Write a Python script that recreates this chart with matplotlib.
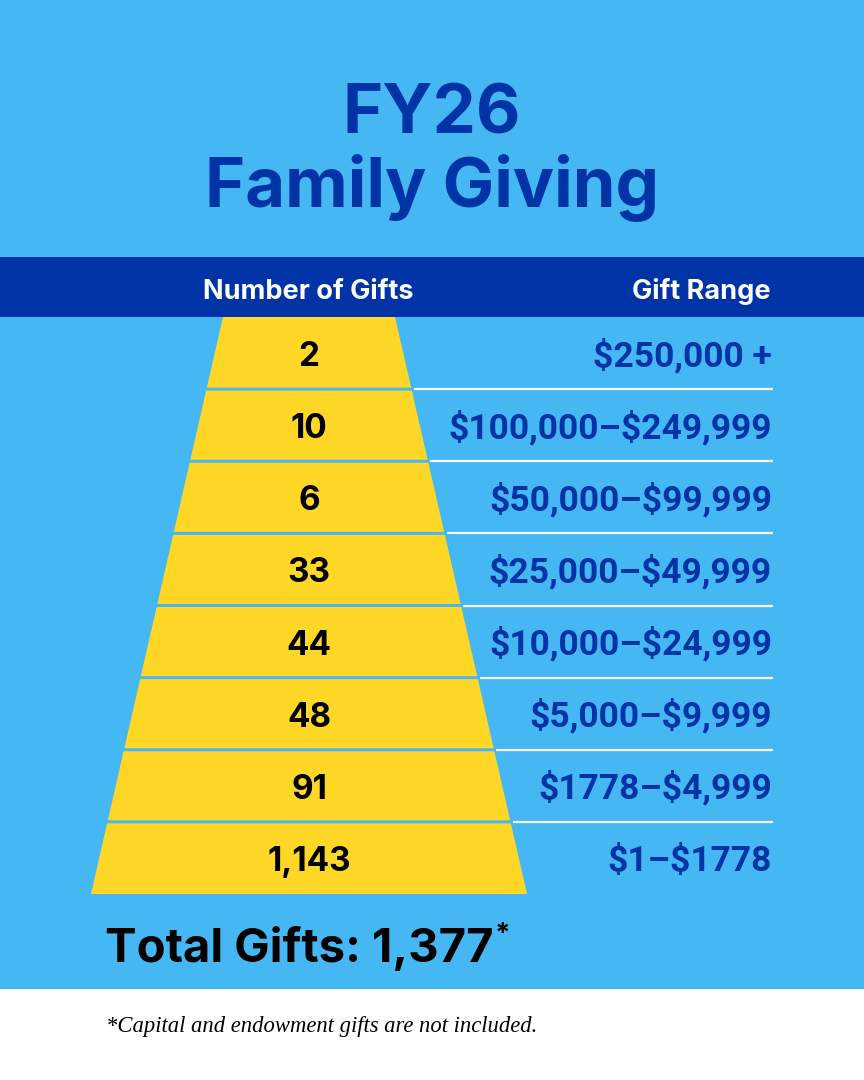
import matplotlib.pyplot as plt

# data
TITLE_LINES = ["FY26", "Family Giving"]
HEADERS = ["Number of Gifts", "Gift Range"]
GIFT_COUNTS = ["2", "10", "6", "33", "44", "48", "91", "1,143"]
GIFT_RANGES = [
    "$250,000 +",
    "$100,000\u2013$249,999",
    "$50,000\u2013$99,999",
    "$25,000\u2013$49,999",
    "$10,000\u2013$24,999",
    "$5,000\u2013$9,999",
    "$1778\u2013$4,999",
    "$1\u2013$1778",
]
TOTAL_LABEL = "Total Gifts: 1,377"
FOOTNOTE = "*Capital and endowment gifts are not included."

SKY = "#45b8f3"
NAVY = "#0033a6"
YELLOW = "#ffd827"

W, H = 864, 1080
fig = plt.figure(figsize=(W / 100, H / 100), dpi=100)
ax = fig.add_axes([0, 0, 1, 1])
ax.set_xlim(0, W)
ax.set_ylim(H, 0)
ax.axis("off")

SANS = ["Inter", "Roboto", "DejaVu Sans"]
NARROW = ["Roboto", "DejaVu Sans"]

# backgrounds
ax.fill_between([0, W], 0, 989, color=SKY, lw=0)
ax.fill_between([0, W], 989, H, color="white", lw=0)
ax.fill_between([0, W], 257, 317, color=NAVY, lw=0)

# title
for text, base in zip(TITLE_LINES, [133, 207]):
    ax.text(432, base, text, ha="center", va="baseline", fontsize=49.5,
            fontweight="bold", color=NAVY, family=SANS)

# header
ax.text(308, 299, HEADERS[0], ha="center", va="baseline", fontsize=19.5,
        fontweight="bold", color="white", family=SANS)
ax.text(771, 299, HEADERS[1], ha="right", va="baseline", fontsize=19.5,
        fontweight="bold", color="white", family=SANS)

# pyramid geometry
top, bottom = 317, 894
left_top, right_top = 223, 395
left_bot, right_bot = 91, 527
n = len(GIFT_COUNTS)
row_h = (bottom - top) / n


def edges(y):
    t = (y - top) / (bottom - top)
    return left_top + (left_bot - left_top) * t, right_top + (right_bot - right_top) * t


for i, (count, rng) in enumerate(zip(GIFT_COUNTS, GIFT_RANGES)):
    y0 = top + i * row_h + (1.5 if i > 0 else 0)
    y1 = top + (i + 1) * row_h - (1.5 if i < n - 1 else 0)
    l0, r0 = edges(y0)
    l1, r1 = edges(y1)
    ax.fill([l0, r0, r1, l1], [y0, y0, y1, y1], color=YELLOW, lw=0)
    yc = top + (i + 0.5) * row_h
    ax.text(309, yc + 13, count, ha="center", va="baseline", fontsize=24,
            fontweight="bold", color="black", family=SANS, parse_math=False)
    ax.text(772, yc + 13, rng, ha="right", va="baseline", fontsize=25.5,
            fontweight="bold", color=NAVY, family=NARROW, parse_math=False)
    if i < n - 1:
        yl = top + (i + 1) * row_h
        _, re = edges(yl)
        ax.plot([re + 2, 773], [yl, yl], color="white", lw=1.6, solid_capstyle="butt")

# total
t = ax.text(105, 962, TOTAL_LABEL, ha="left", va="baseline",
            fontsize=34, fontweight="bold", color="black", family=SANS)
fig.canvas.draw()
bb = t.get_window_extent().transformed(ax.transData.inverted())
ax.text(bb.x1 + 1, 942, "*", ha="left", va="baseline", fontsize=20,
        fontweight="bold", color="black", family=SANS)

# footnote
ax.text(106, 1032, FOOTNOTE, ha="left", va="baseline", fontsize=16.3,
        style="italic", color="black", family=["Liberation Serif", "DejaVu Serif"])

fig.savefig("out.png", dpi=100)
